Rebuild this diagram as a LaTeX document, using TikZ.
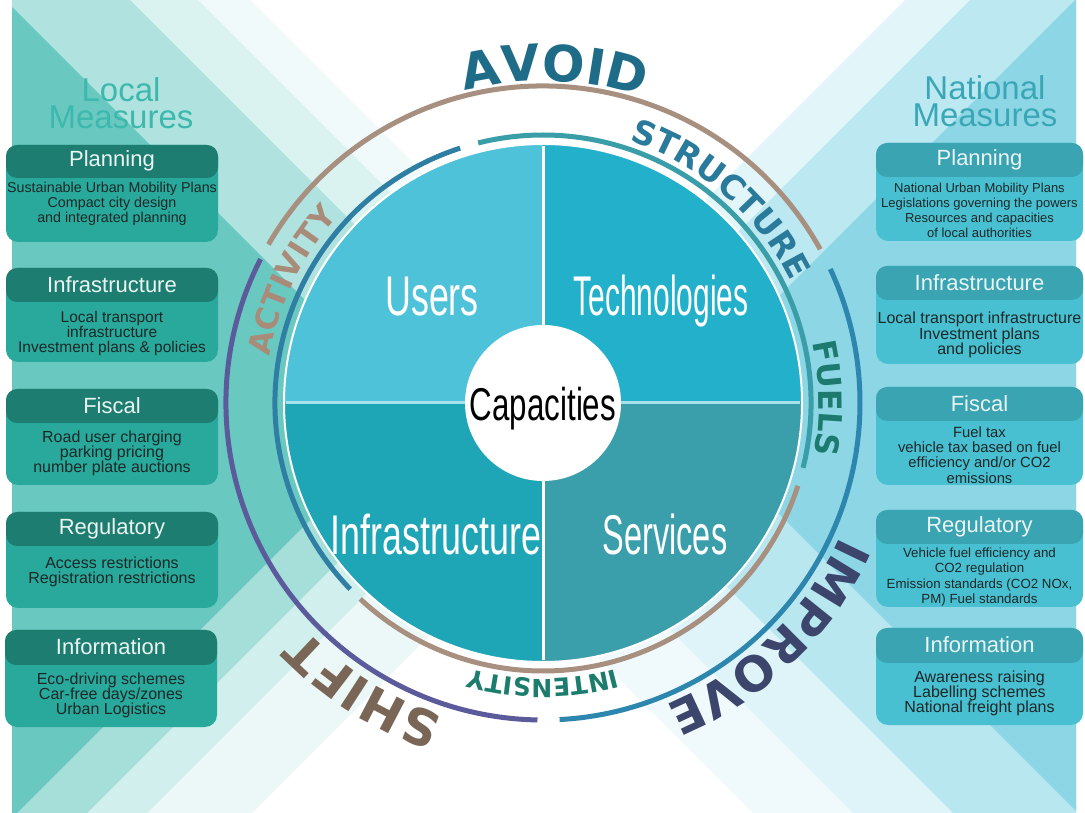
\documentclass[tikz,border=0pt]{standalone}
\usepackage{fontspec}
\usepackage{graphicx}
\setmainfont{Liberation Sans}
\newfontfamily\arcfam{DejaVu Sans}
\usetikzlibrary{decorations.text,calc}
\definecolor{wedgeL}{HTML}{69C9C1}
\definecolor{wedgeR}{HTML}{8DD6E5}
\definecolor{tlA}{HTML}{B0E3DF}
\definecolor{tlB}{HTML}{DAF2F0}
\definecolor{tlC}{HTML}{F1FAFA}
\definecolor{blA}{HTML}{A6DED9}
\definecolor{blB}{HTML}{D0EFED}
\definecolor{blC}{HTML}{ECF8F8}
\definecolor{trA}{HTML}{BCE8F1}
\definecolor{trB}{HTML}{E2F5F9}
\definecolor{brA}{HTML}{B8E7F0}
\definecolor{brB}{HTML}{DEF4F8}
\definecolor{brC}{HTML}{F0FAFC}
\definecolor{qUL}{HTML}{4EC2D9}
\definecolor{qUR}{HTML}{22B0CB}
\definecolor{qLL}{HTML}{1EA5B6}
\definecolor{qLR}{HTML}{3B9FAB}
\definecolor{hdivc}{HTML}{A6E2EC}
\definecolor{rBrown}{HTML}{A89080}
\definecolor{rBlue}{HTML}{2F7EA3}
\definecolor{rTeal}{HTML}{3A9EA9}
\definecolor{rPurple}{HTML}{5B5B9C}
\definecolor{rBlueB}{HTML}{2D86AD}
\definecolor{cAvoid}{HTML}{1F6C88}
\definecolor{cStruct}{HTML}{2A7B9B}
\definecolor{cAct}{HTML}{A88B78}
\definecolor{cFuel}{HTML}{1C7B6E}
\definecolor{cInt}{HTML}{1C7C6D}
\definecolor{cImp}{HTML}{3C456C}
\definecolor{cShift}{HTML}{7A6657}
\definecolor{lHead}{HTML}{1E7D71}
\definecolor{lBody}{HTML}{28A99C}
\definecolor{rHead}{HTML}{3AA4B2}
\definecolor{rBody}{HTML}{48C0D1}
\definecolor{headTxt}{HTML}{EAF5F3}
\definecolor{bodyTxt}{HTML}{1C2827}
\definecolor{cLocal}{HTML}{3CB8AD}
\definecolor{cNat}{HTML}{3AA7B7}
\newcommand\fAvoid{\arcfam\bfseries\fontsize{50}{50}\selectfont\color{cAvoid}}
\newcommand\fStruct{\arcfam\bfseries\fontsize{33}{33}\selectfont\color{cStruct}}
\newcommand\fAct{\arcfam\bfseries\fontsize{31}{31}\selectfont\color{cAct}}
\newcommand\fFuel{\arcfam\bfseries\fontsize{32}{32}\selectfont\color{cFuel}}
\newcommand\fInt{\arcfam\bfseries\fontsize{25}{25}\selectfont\color{cInt}}
\newcommand\fImp{\arcfam\bfseries\fontsize{48}{48}\selectfont\color{cImp}}
\newcommand\fShift{\arcfam\bfseries\fontsize{50}{50}\selectfont\color{cShift}}
\tikzset{
  lheadbox/.style={fill=lHead, rounded corners=11pt},
  lbodybox/.style={fill=lBody, rounded corners=12pt},
  rheadbox/.style={fill=rHead, rounded corners=11pt},
  rbodybox/.style={fill=rBody, rounded corners=12pt},
  htext/.style={text=headTxt, inner sep=0pt, font=\fontsize{22}{22}\selectfont},
  btext/.style={text=bodyTxt, inner sep=0pt, align=center},
  qlab/.style={text=white, inner sep=0pt, anchor=base, font=\fontsize{56}{56}\selectfont},
  ringarc/.style={line width=5pt},
  arctext/.style={decorate},
  titletext/.style={inner sep=0pt, align=center, font=\fontsize{33}{27}\selectfont}
}
\begin{document}
\begin{tikzpicture}[x=1pt,y=1pt]
\useasboundingbox (0,0) rectangle (1085,812);
\fill[white] (0,0) rectangle (1085,812);
% background X
\begin{scope}
\clip (12,0) rectangle (1076,812);
% top-left arm
\fill[tlC] (-100,912) -- (150,912) -- (660,402) -- (-100,402) -- cycle;
\fill[tlB] (-100,912) -- (98,912) -- (608,402) -- (-100,402) -- cycle;
\fill[tlA] (-100,912) -- (30,912) -- (540,402) -- (-100,402) -- cycle;
% top-right arm
\fill[trB] (1005,912) -- (1300,912) -- (1300,402) -- (495,402) -- cycle;
\fill[trA] (1070,912) -- (1300,912) -- (1300,402) -- (560,402) -- cycle;
% bottom-left arm
\fill[blC] (-100,402) -- (655,402) -- (135,-118) -- (-100,-118) -- cycle;
\fill[blB] (-100,402) -- (550,402) -- (30,-118) -- (-100,-118) -- cycle;
\fill[blA] (-100,402) -- (490,402) -- (-30,-118) -- (-100,-118) -- cycle;
% bottom-right arm
\fill[brC] (350,402) -- (1300,402) -- (1300,-118) -- (870,-118) -- cycle;
\fill[brB] (450,402) -- (1300,402) -- (1300,-118) -- (970,-118) -- cycle;
\fill[brA] (550,402) -- (1300,402) -- (1300,-118) -- (1070,-118) -- cycle;
% side wedges
\fill[wedgeL] (-100,912) -- (-95,912) -- (417.5,399.5) -- (-100,-118) -- cycle;
\fill[wedgeR] (670,407) -- (1175,912) -- (1300,912) -- (1300,-223) -- cycle;
\end{scope}

\coordinate (C) at (543,409);
% pie
\fill[qUL] (C) -- ++(90:259) arc[start angle=90,end angle=180,radius=259] -- cycle;
\fill[qUR] (C) -- ++(0:259) arc[start angle=0,end angle=90,radius=259] -- cycle;
\fill[qLL] (C) -- ++(180:259) arc[start angle=180,end angle=270,radius=259] -- cycle;
\fill[qLR] (C) -- ++(270:259) arc[start angle=270,end angle=360,radius=259] -- cycle;
\draw[white, line width=2pt] (C) circle[radius=259];
\draw[hdivc, line width=3pt] ($(C)+(-257,0)$) -- ($(C)+(257,0)$);
\draw[white, line width=3pt] ($(C)+(0,257)$) -- ($(C)+(0,-257)$);

% rings
\draw[ringarc, rBlue] ($(C)+(108:268)$) arc[start angle=108,end angle=224,radius=268];
\draw[ringarc, rTeal] ($(C)+(-14:268)$) arc[start angle=-14,end angle=104,radius=268];
\draw[ringarc, rBrown] ($(C)+(-133:268)$) arc[start angle=-133,end angle=-18,radius=268];
\draw[ringarc, rBrown] ($(C)+(29:317)$) arc[start angle=29,end angle=150,radius=317];
\draw[ringarc, rPurple] ($(C)+(153:317)$) arc[start angle=153,end angle=269,radius=317];
\draw[ringarc, rBlueB] ($(C)+(-87:317)$) arc[start angle=-87,end angle=25,radius=317];

% arc labels
\path[arctext, decoration={text along path, text align=center, text={|\fAvoid|AVOID}}]
  ($(C)+(140:322)$) arc[start angle=140,end angle=36,radius=322];
\path[arctext, decoration={text along path, text align=center, text={|\fStruct|STRUCTURE}}]
  ($(C)+(94:276)$) arc[start angle=94,end angle=4,radius=276];
\path[arctext, decoration={text along path, text align=center, text={|\fAct|ACTIVITY}}]
  ($(C)+(199:277)$) arc[start angle=199,end angle=109,radius=277];
\path[arctext, decoration={text along path, text align=center, text={|\fFuel|FUELS}}]
  ($(C)+(31:276)$) arc[start angle=31,end angle=-29,radius=276];
\path[arctext, decoration={text along path, text align=center, text={|\fInt|INTENSITY}}]
  ($(C)+(-40:276)$) arc[start angle=-40,end angle=-140,radius=276];
\path[arctext, decoration={text along path, text align=center, text={|\fImp|IMPROVE}}]
  ($(C)+(4:326)$) arc[start angle=4,end angle=-96,radius=326];
\path[arctext, decoration={text along path, text align=center, text={|\fShift|SHIFT}}]
  ($(C)+(283:328)$) arc[start angle=283,end angle=193,radius=328];

% center circle and quadrant labels
\node[qlab] (users) at (432,812-316) {\scalebox{0.64}[1]{Users}};
\node[qlab] (tech) at (661,812-316) {\scalebox{0.535}[1]{Technologies}};
\node[qlab] (infra) at (436,812-555) {\scalebox{0.64}[1]{Infrastructure}};
\node[qlab] (serv) at (665,812-555) {\scalebox{0.58}[1]{Services}};
\fill[white] (C) circle[radius=78];
\node[inner sep=0pt, anchor=base, font=\fontsize{46}{46}\selectfont, text=black] (cap) at (543,812-421) {\scalebox{0.68}[1]{Capacities}};

% titles
\node[titletext, text=cLocal] (localT) at (121,812-103) {Local\\Measures};
\node[titletext, text=cNat] (natT) at (985,812-101) {National\\Measures};

% left boxes
\fill[lbodybox] (6,812-145) rectangle (218,812-242);
\fill[lheadbox] (6,812-145) rectangle (218,812-178);
\node[htext] (lPlanH) at (112,812-161) {Planning};
\node[btext, font=\fontsize{14.3}{15}\selectfont] (lPlanB) at (112,812-204) {Sustainable Urban Mobility Plans\\Compact city design\\and integrated planning};

\fill[lbodybox] (6,812-268) rectangle (218,812-362);
\fill[lheadbox] (6,812-268) rectangle (218,812-302);
\node[htext] (lInfH) at (112,812-285) {Infrastructure};
\node[btext, font=\fontsize{15.5}{15}\selectfont] (lInfB) at (112,812-333) {Local transport\\infrastructure\\Investment plans \& policies};

\fill[lbodybox] (6,812-389) rectangle (218,812-485);
\fill[lheadbox] (6,812-389) rectangle (218,812-423);
\node[htext] (lFisH) at (112,812-406) {Fiscal};
\node[btext, font=\fontsize{16}{15}\selectfont] (lFisB) at (112,812-453) {Road user charging\\parking pricing\\number plate auctions};

\fill[lbodybox] (6,812-512) rectangle (218,812-608);
\fill[lheadbox] (6,812-512) rectangle (218,812-546);
\node[htext] (lRegH) at (112,812-529) {Regulatory};
\node[btext, font=\fontsize{16}{15}\selectfont] (lRegB) at (112,812-572) {Access restrictions\\Registration restrictions};

\fill[lbodybox] (5,812-630) rectangle (217,812-727);
\fill[lheadbox] (5,812-630) rectangle (217,812-665);
\node[htext] (lInfoH) at (111,812-647) {Information};
\node[btext, font=\fontsize{16}{15}\selectfont] (lInfoB) at (111,812-695) {Eco-driving schemes\\Car-free days/zones\\Urban Logistics};

% right boxes
\fill[rbodybox] (876,812-143) rectangle (1083,812-241);
\fill[rheadbox] (876,812-143) rectangle (1083,812-177);
\node[htext] (rPlanH) at (979.5,812-160) {Planning};
\node[btext, font=\fontsize{13}{15}\selectfont] (rPlanB) at (979.5,812-210) {National Urban Mobility Plans\\Legislations governing the powers\\Resources and capacities\\of local authorities};

\fill[rbodybox] (876,812-266) rectangle (1083,812-364);
\fill[rheadbox] (876,812-266) rectangle (1083,812-300);
\node[htext] (rInfH) at (979.5,812-283) {Infrastructure};
\node[btext, font=\fontsize{16}{15.5}\selectfont] (rInfB) at (979.5,812-335) {Local transport infrastructure\\Investment plans\\and policies};

\fill[rbodybox] (876,812-387) rectangle (1083,812-485);
\fill[rheadbox] (876,812-387) rectangle (1083,812-421);
\node[htext] (rFisH) at (979.5,812-404) {Fiscal};
\node[btext, font=\fontsize{14.8}{15.3}\selectfont] (rFisB) at (979.5,812-455) {Fuel tax\\vehicle tax based on fuel\\efficiency and/or CO2\\emissions};

\fill[rbodybox] (876,812-510) rectangle (1083,812-607);
\fill[rheadbox] (876,812-510) rectangle (1083,812-544);
\node[htext] (rRegH) at (979.5,812-527) {Regulatory};
\node[btext, font=\fontsize{13.3}{15.3}\selectfont] (rRegB) at (979.5,812-577) {Vehicle fuel efficiency and\\CO2 regulation\\Emission standards (CO2 NOx,\\PM) Fuel standards};

\fill[rbodybox] (876,812-628) rectangle (1083,812-725);
\fill[rheadbox] (876,812-628) rectangle (1083,812-663);
\node[htext] (rInfoH) at (979.5,812-645) {Information};
\node[btext, font=\fontsize{16}{15}\selectfont] (rInfoB) at (979.5,812-693) {Awareness raising\\Labelling schemes\\National freight plans};
\end{tikzpicture}
\end{document}
